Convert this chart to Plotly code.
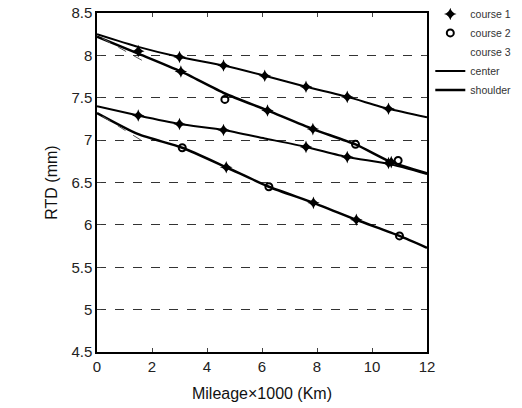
import plotly.graph_objects as go

# ---- data ----
# line A : upper, center-type wear
a_x = [0, 1.5, 3.0, 4.6, 6.1, 7.6, 9.1, 10.6, 12]
a_y = [8.25, 8.10, 7.98, 7.88, 7.76, 7.63, 7.51, 7.37, 7.27]
# line B : upper, shoulder-type wear
b_x = [0, 1.5, 3.05, 4.65, 6.2, 7.85, 9.4, 10.7, 12]
b_y = [8.22, 8.02, 7.81, 7.55, 7.35, 7.13, 6.95, 6.74, 6.61]
# line C : lower, center-type wear
c_x = [0, 1.5, 3.0, 4.6, 6.1, 7.6, 9.1, 10.6, 12]
c_y = [7.40, 7.29, 7.19, 7.12, 7.02, 6.92, 6.80, 6.72, 6.60]
# line D : lower, shoulder-type wear
d_x = [0, 1.5, 3.1, 4.7, 6.25, 7.87, 9.43, 11.0, 12]
d_y = [7.32, 7.07, 6.91, 6.68, 6.45, 6.26, 6.06, 5.87, 5.73]

# course markers
c1_x = [1.5, 3.0, 4.6, 6.1, 7.6, 9.1, 10.6, 3.05, 6.2, 7.85, 10.7, 1.5, 3.0, 4.6, 7.6, 9.1, 10.6, 4.7, 7.87, 9.43]
c1_y = [8.05, 7.98, 7.88, 7.76, 7.63, 7.51, 7.37, 7.81, 7.35, 7.13, 6.74, 7.29, 7.19, 7.12, 6.92, 6.80, 6.73, 6.68, 6.26, 6.06]
c2_x = [4.65, 9.4, 10.95, 3.1, 6.25, 11.0]
c2_y = [7.48, 6.95, 6.76, 6.91, 6.45, 5.87]

# short dashed start segments
s1_x = [0.2, 1.7]
s1_y = [8.20, 7.93]
s2_x = [0.2, 1.6]
s2_y = [7.28, 7.00]

y_ticks = [4.5, 5, 5.5, 6, 6.5, 7, 7.5, 8, 8.5]
x_ticks = [0, 2, 4, 6, 8, 10, 12]

fig = go.Figure()

spl = dict(shape="spline", smoothing=0.6)

# lines
fig.add_trace(go.Scatter(x=a_x, y=a_y, mode="lines", name="center", legendrank=4,
                         line=dict(color="black", width=2, **spl)))
fig.add_trace(go.Scatter(x=c_x, y=c_y, mode="lines", name="center", showlegend=False,
                         line=dict(color="black", width=2, **spl)))
fig.add_trace(go.Scatter(x=b_x, y=b_y, mode="lines", name="shoulder", legendrank=5,
                         line=dict(color="black", width=2.5, **spl)))
fig.add_trace(go.Scatter(x=d_x, y=d_y, mode="lines", name="shoulder", showlegend=False,
                         line=dict(color="black", width=2.5, **spl)))
fig.add_trace(go.Scatter(x=s1_x, y=s1_y, mode="lines", showlegend=False,
                         line=dict(color="#555", width=1, dash="dash")))
fig.add_trace(go.Scatter(x=s2_x, y=s2_y, mode="lines", showlegend=False,
                         line=dict(color="#555", width=1, dash="dash")))

# markers (on top)
fig.add_trace(go.Scatter(x=c1_x, y=c1_y, mode="markers", name="course 1", legendrank=1,
                         marker=dict(symbol="star-diamond", size=9, color="black")))
fig.add_trace(go.Scatter(x=c2_x, y=c2_y, mode="markers", name="course 2", legendrank=2,
                         marker=dict(symbol="circle-open", size=7, color="black",
                                     line=dict(width=2, color="black"))))
fig.add_trace(go.Scatter(x=[None], y=[None], mode="markers", name="course 3", legendrank=3,
                         marker=dict(size=1, color="rgba(0,0,0,0)")))

font_family = "Liberation Sans, Arial, sans-serif"

fig.update_layout(
    width=522, height=408,
    margin=dict(l=97, r=95, t=13, b=56, autoexpand=False),
    paper_bgcolor="white", plot_bgcolor="white",
    font=dict(family=font_family, color="#222"),
    legend=dict(x=1.01, y=1.04, xanchor="left", yanchor="top",
                font=dict(size=10.5, color="#333"), bgcolor="rgba(0,0,0,0)",
                tracegroupgap=0, itemwidth=30, traceorder="normal"),
    xaxis=dict(range=[0, 12], tickvals=x_ticks, ticks="inside", ticklen=4,
               mirror="ticks", showline=True, linecolor="black", linewidth=1.5,
               showgrid=False, zeroline=False, tickfont=dict(size=15, color="#222"),
               title=dict(text="Mileage×1000 (Km)", font=dict(size=16, color="#111"),
                          standoff=14)),
    yaxis=dict(range=[4.5, 8.5], tickvals=y_ticks, ticks="inside", ticklen=4,
               mirror="ticks", showline=True, linecolor="black", linewidth=1.5,
               showgrid=True, gridcolor="#333", griddash="dash", gridwidth=1,
               zeroline=False, tickfont=dict(size=15, color="#222"),
               title=dict(text="RTD (mm)", font=dict(size=16, color="#111"), standoff=10)),
)

fig.write_html("out.html")
